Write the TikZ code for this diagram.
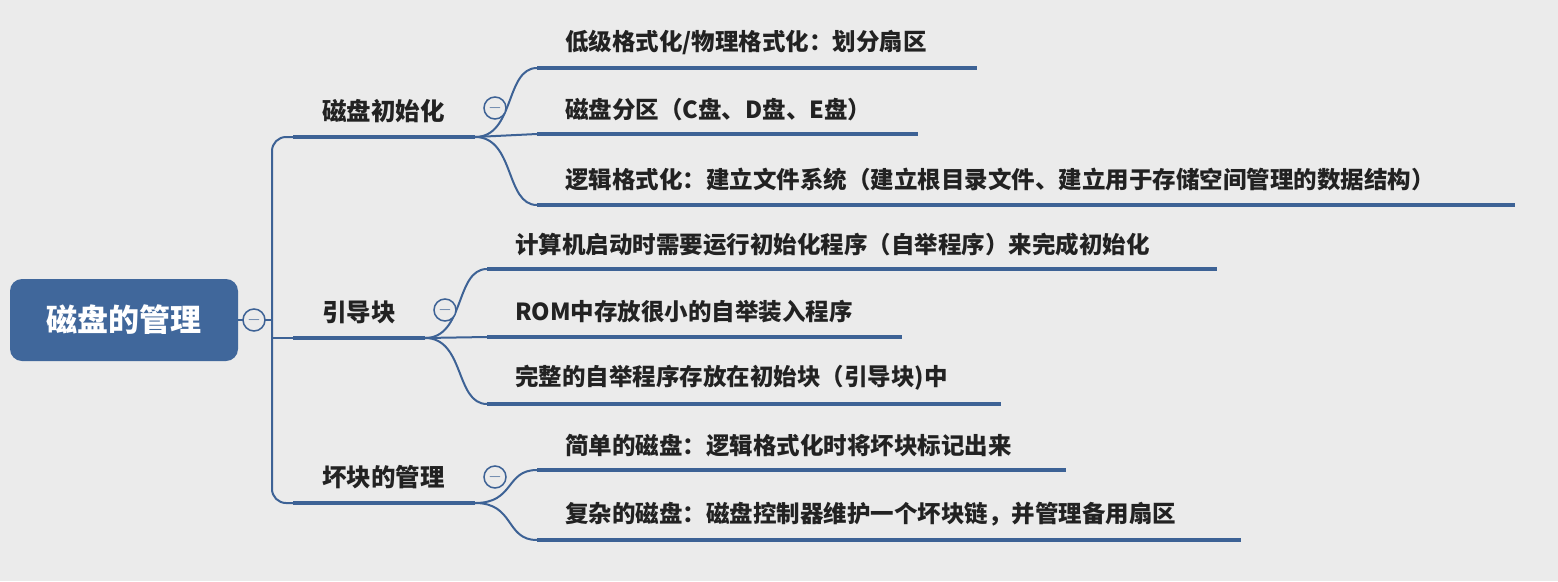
\documentclass[tikz,border=0pt]{standalone}
\usepackage{fontspec}
\setmainfont{Noto Sans CJK SC}
\definecolor{bgcol}{HTML}{EBEBEB}
\definecolor{linecol}{HTML}{3D6295}
\definecolor{rootcol}{HTML}{40679B}
\definecolor{txtcol}{HTML}{222222}
\tikzset{
  leaf/.style={anchor=south west,inner sep=0pt,text=txtcol,font=\fontsize{23.5}{26}\selectfont\bfseries},
  topic/.style={anchor=south west,inner sep=0pt,text=txtcol,font=\fontsize{24.5}{27}\selectfont\bfseries},
  uline/.style={draw=linecol,line width=4pt},
  branch/.style={draw=linecol,line width=2pt},
  fold/.style={circle,draw=linecol,line width=1.5pt,fill=bgcol,minimum size=22pt,inner sep=0pt,font=\fontsize{16}{16}\selectfont,text=linecol}
}
\begin{document}
\begin{tikzpicture}[x=1pt,y=-1pt]
\fill[bgcol] (0,0) rectangle (1558,581);
\useasboundingbox (0,0) rectangle (1558,581);
% root
\node[fill=rootcol,rounded corners=12pt,minimum width=228pt,minimum height=82pt,text=white,font=\fontsize{31}{34}\selectfont\bfseries] (root) at (124,320) {磁盘的管理};
% main branches
\draw[branch,rounded corners=14pt] (293,137) -- (272,137) -- (272,503) -- (293,503);
\draw[branch] (238,320) -- (272,320);
\draw[branch] (272,338) -- (293,338);
% topics
\draw[uline] (293,137) coordinate (t1) -- (475,137);
\draw[uline] (293,338) coordinate (t2) -- (425,338);
\draw[uline] (293,503) coordinate (t3) -- (475,503);
\node[topic] at (322,123) {磁盘初始化};
\node[topic] at (322,324) {引导块};
\node[topic] at (322,489) {坏块的管理};
% group 1
\draw[branch] (475,137) .. controls (515,137) and (505,68) .. (537,68);
\draw[branch] (475,137) -- (537,134);
\draw[branch] (475,137) .. controls (515,137) and (505,205) .. (537,205);
\draw[uline] (537,68) -- (977,68);
\draw[uline] (537,134) -- (918,134);
\draw[uline] (537,205) -- (1515,205);
\node[leaf] at (565,55) {低级格式化/物理格式化：划分扇区};
\node[leaf] at (565,121) {磁盘分区（C盘、D盘、E盘）};
\node[leaf] at (565,191) {逻辑格式化：建立文件系统（建立根目录文件、建立用于存储空间管理的数据结构）};
% group 2
\draw[branch] (425,338) .. controls (465,338) and (455,269) .. (487,269);
\draw[branch] (425,338) -- (487,337);
\draw[branch] (425,338) .. controls (465,338) and (455,404) .. (487,404);
\draw[uline] (487,269) -- (1217,269);
\draw[uline] (487,337) -- (902,337);
\draw[uline] (487,404) -- (1001,404);
\node[leaf] at (515,256) {计算机启动时需要运行初始化程序（自举程序）来完成初始化};
\node[leaf] at (515,323) {ROM中存放很小的自举装入程序};
\node[leaf] at (515,391) {完整的自举程序存放在初始块（引导块)中};
% group 3
\draw[branch] (475,503) .. controls (515,503) and (505,470) .. (537,470);
\draw[branch] (475,503) .. controls (515,503) and (505,540) .. (537,540);
\draw[uline] (537,470) -- (1066,470);
\draw[uline] (537,540) -- (1241,540);
\node[leaf] at (565,457) {简单的磁盘：逻辑格式化时将坏块标记出来};
\node[leaf] at (565,526) {复杂的磁盘：磁盘控制器维护一个坏块链，并管理备用扇区};
% fold markers
\node[fold] (f0) at (254,320) {$-$};
\node[fold] (f1) at (495,108) {$-$};
\node[fold] (f2) at (445,310) {$-$};
\node[fold] (f3) at (495,477) {$-$};
\end{tikzpicture}
\end{document}
